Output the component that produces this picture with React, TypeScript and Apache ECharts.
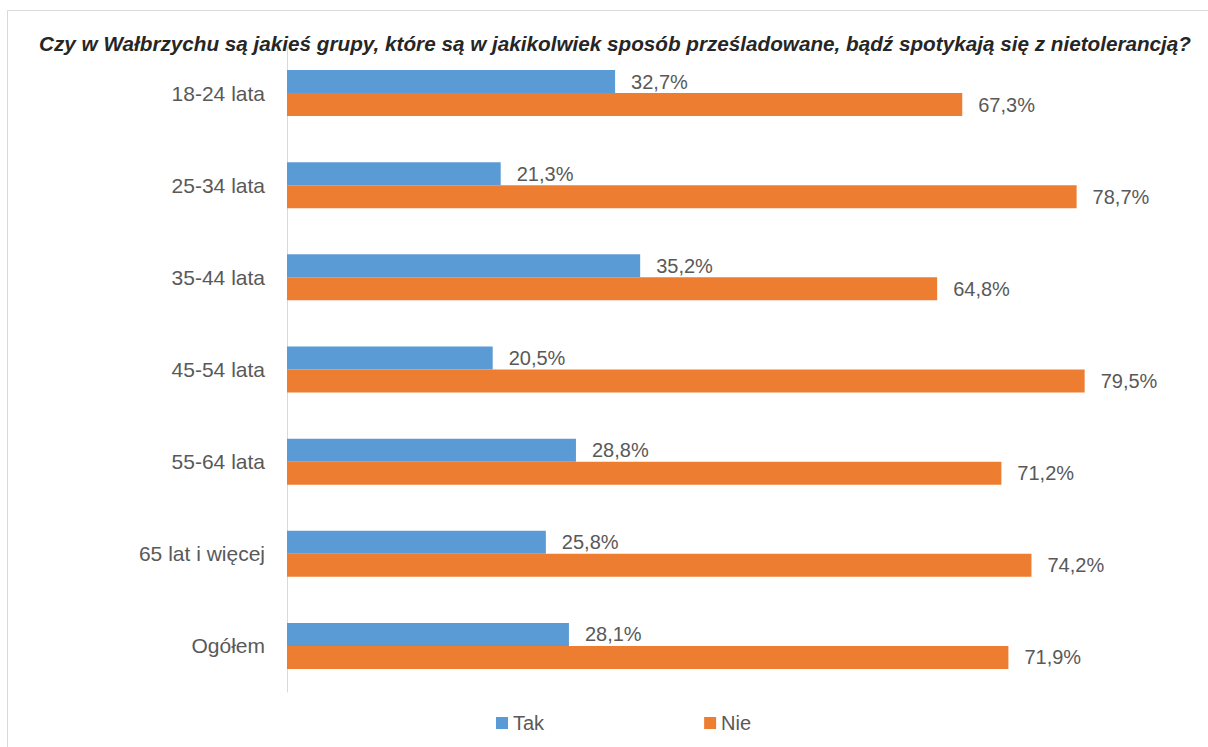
import React, { useEffect, useRef } from "react";
import * as echarts from "echarts";

const categories = ["18-24 lata", "25-34 lata", "35-44 lata", "45-54 lata", "55-64 lata", "65 lat i więcej", "Ogółem"];
const takValues = [32.7, 21.3, 35.2, 20.5, 28.8, 25.8, 28.1];
const nieValues = [67.3, 78.7, 64.8, 79.5, 71.2, 74.2, 71.9];
const seriesNames = ["Tak", "Nie"];
const titleText = "Czy w Wałbrzychu są jakieś grupy, które są w jakikolwiek sposób prześladowane, bądź spotykają się z nietolerancją?";

const FONT = "'Liberation Sans', Arial, sans-serif";
const fmt = (v: number) => v.toFixed(1).replace(".", ",") + "%";

export default function App() {
  const ref = useRef<HTMLDivElement>(null);
  useEffect(() => {
    if (!ref.current) return;
    const chart = echarts.init(ref.current, undefined, { renderer: "svg" });
    const labelStyle = {
      show: true,
      position: "right" as const,
      distance: 16,
      color: "#595959",
      fontSize: 20,
      fontFamily: FONT,
      formatter: (p: any) => fmt(p.value),
    };
    chart.setOption({
      animation: false,
      backgroundColor: "#ffffff",
      graphic: [
        {
          type: "rect",
          shape: { x: 7.5, y: 10.5, width: 1300, height: 800 },
          style: { fill: "none", stroke: "#d9d9d9", lineWidth: 1 },
          silent: true,
        },
        {
          type: "text",
          x: 39,
          y: 43,
          style: {
            text: titleText,
            font: `italic bold 20.7px ${FONT}`,
            fill: "#262626",
            verticalAlign: "middle",
          },
        },
      ],
      legend: {
        data: seriesNames,
        left: 491,
        top: 708,
        itemWidth: 12,
        itemHeight: 12,
        itemGap: 160,
        icon: "rect",
        textStyle: { color: "#595959", fontSize: 20, fontFamily: FONT },
      },
      grid: { left: 287, top: 47, width: 903, height: 645, containLabel: false },
      xAxis: {
        type: "value",
        min: 0,
        max: 90,
        show: false,
        splitLine: { show: false },
      },
      yAxis: {
        type: "category",
        data: categories,
        inverse: true,
        axisLine: { show: true, lineStyle: { color: "#d9d9d9", width: 1 } },
        axisTick: { show: false },
        axisLabel: { color: "#595959", fontSize: 21, fontFamily: FONT, margin: 22 },
        splitLine: { show: false },
      },
      series: [
        {
          name: seriesNames[0],
          type: "bar",
          data: takValues,
          barWidth: 23,
          barGap: "0%",
          itemStyle: { color: "#5b9bd5" },
          label: labelStyle,
        },
        {
          name: seriesNames[1],
          type: "bar",
          data: nieValues,
          barWidth: 23,
          barGap: "0%",
          itemStyle: { color: "#ed7d31" },
          label: labelStyle,
        },
      ],
    });
    return () => chart.dispose();
  }, []);
  return (
    <div
      ref={ref}
      style={{ position: "fixed", left: 0, top: 0, width: 1208, height: 747, background: "#fff" }}
    />
  );
}
